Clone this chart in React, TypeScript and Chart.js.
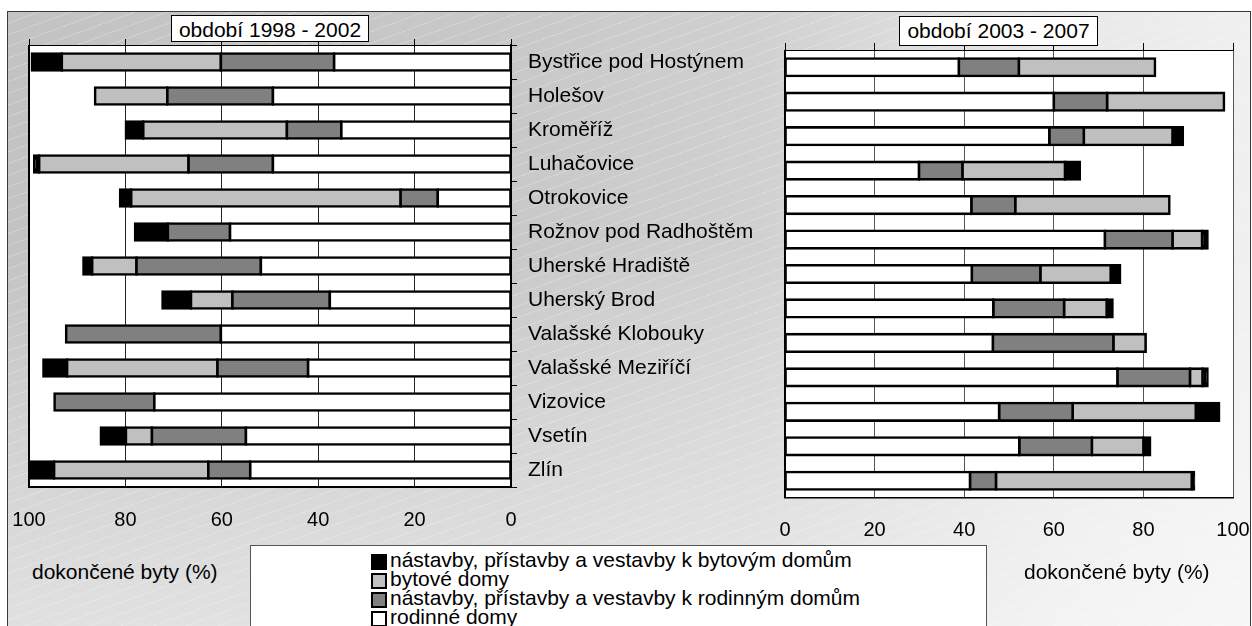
import React, { useEffect, useRef } from 'react';
import { Chart, registerables } from 'chart.js';

Chart.register(...registerables);

const FONT = '"Liberation Sans", Arial, Helvetica, sans-serif';

const categories = [
  'Bystřice pod Hostýnem',
  'Holešov',
  'Kroměříž',
  'Luhačovice',
  'Otrokovice',
  'Rožnov pod Radhoštěm',
  'Uherské Hradiště',
  'Uherský Brod',
  'Valašské Klobouky',
  'Valašské Meziříčí',
  'Vizovice',
  'Vsetín',
  'Zlín',
];

// období 1998 - 2002 (%)
const rodinne1 = [36.7, 49.4, 35.2, 49.4, 15.2, 58.3, 51.9, 37.6, 60.2, 42.1, 74.0, 55.0, 54.1];
const nastRod1 = [23.5, 21.9, 11.3, 17.5, 7.7, 12.9, 25.8, 20.2, 32.1, 18.8, 20.7, 19.5, 8.7];
const bytove1 = [33.0, 15.0, 29.8, 31.0, 55.9, 0, 9.2, 8.6, 0, 31.2, 0, 5.4, 32.0];
const nastByt1 = [6.2, 0, 3.6, 1.0, 2.3, 6.8, 1.8, 5.9, 0, 4.9, 0, 5.2, 5.2];

// období 2003 - 2007 (%)
const rodinne2 = [38.8, 60.0, 59.0, 29.9, 41.6, 71.4, 41.7, 46.5, 46.4, 74.2, 47.8, 52.3, 41.3];
const nastRod2 = [13.4, 11.9, 7.7, 9.7, 9.8, 15.1, 15.3, 15.8, 26.9, 16.2, 16.4, 16.2, 5.8];
const bytove2 = [30.4, 26.1, 19.8, 22.9, 34.4, 6.6, 15.7, 9.5, 7.2, 2.8, 27.5, 11.5, 43.7];
const nastByt2 = [0, 0, 2.3, 3.3, 0, 1.2, 2.1, 1.3, 0, 1.1, 5.2, 1.5, 0.5];

const seriesNames = [
  'nástavby, přístavby a vestavby k bytovým domům',
  'bytové domy',
  'nástavby, přístavby a vestavby k rodinným domům',
  'rodinné domy',
];
const seriesColors = ['#000000', '#c0c0c0', '#808080', '#ffffff'];

const periodTitles = ['období 1998 - 2002', 'období 2003 - 2007'];
const axisTitle = 'dokončené byty (%)';

const BORDER = 2.6;

function makeDatasets(rod: number[], nRod: number[], byt: number[], nByt: number[], barPct: number) {
  const values = [rod, nRod, byt, nByt];
  const idx = [3, 2, 1, 0];
  return values.map((v, i) => ({
    label: seriesNames[idx[i]],
    data: v.map((x) => (x > 0 ? x : null)),
    backgroundColor: seriesColors[idx[i]],
    borderColor: '#000000',
    borderWidth: BORDER,
    borderSkipped: false as any,
    inflateAmount: BORDER / 2,
    barPercentage: barPct,
    categoryPercentage: 1,
  }));
}

const plotFrame = {
  id: 'plotFrame',
  beforeDraw(chart: any) {
    const { ctx, chartArea: a } = chart;
    ctx.save();
    ctx.fillStyle = '#ffffff';
    ctx.fillRect(a.left, a.top, a.right - a.left, a.bottom - a.top);
    ctx.restore();
  },
  beforeDatasetsDraw(chart: any) {
    const { ctx, chartArea: a } = chart;
    ctx.save();
    ctx.strokeStyle = '#000000';
    ctx.lineWidth = 2;
    ctx.beginPath();
    ctx.moveTo(a.left, a.top);
    ctx.lineTo(a.left, a.bottom);
    ctx.stroke();
    ctx.restore();
  },
};

function zeroPad(s: any) {
  s.paddingLeft = 0;
  s.paddingRight = 0;
  s.paddingTop = 0;
  s.paddingBottom = 0;
}

export default function App() {
  const leftRef = useRef<HTMLCanvasElement>(null);
  const rightRef = useRef<HTMLCanvasElement>(null);

  useEffect(() => {
    Chart.defaults.font.family = FONT;
    Chart.defaults.color = '#000';

    const left = new Chart(leftRef.current as HTMLCanvasElement, {
      type: 'bar',
      data: {
        labels: categories,
        datasets: makeDatasets(rodinne1, nastRod1, bytove1, nastByt1, 0.5) as any,
      },
      plugins: [plotFrame],
      options: {
        animation: false,
        responsive: false,
        devicePixelRatio: 1,
        indexAxis: 'y',
        layout: { padding: { left: 29, top: 39, right: 0, bottom: 0 } },
        plugins: { legend: { display: false }, tooltip: { enabled: false }, title: { display: false } },
        scales: {
          x: {
            type: 'linear',
            position: 'bottom',
            stacked: true,
            reverse: true,
            min: 0,
            max: 100,
            ticks: { stepSize: 20, color: '#000', font: { size: 20, family: FONT }, padding: 21, maxRotation: 0 },
            grid: { color: '#222222', lineWidth: 1, drawTicks: false, drawOnChartArea: true },
            border: { display: true, color: '#000', width: 2 },
            afterFit: (s: any) => { s.height = 73; zeroPad(s); },
          },
          x2: {
            type: 'linear',
            position: 'top',
            reverse: true,
            min: 0,
            max: 100,
            ticks: { display: false, stepSize: 20 },
            grid: { drawOnChartArea: false, drawTicks: true, tickLength: 6, color: '#000' },
            border: { display: true, color: '#000', width: 1 },
            afterFit: (s: any) => { s.height = 6; zeroPad(s); },
          },
          y: {
            type: 'category',
            position: 'right',
            stacked: true,
            ticks: { color: '#000', font: { size: 21, family: FONT }, padding: 11, autoSkip: false },
            grid: { drawOnChartArea: false, drawTicks: true, tickLength: 6, color: '#000', offset: true },
            border: { display: true, color: '#000', width: 2 },
            afterFit: (s: any) => { s.width = 269; zeroPad(s); },
          },
        },
      } as any,
    });

    const right = new Chart(rightRef.current as HTMLCanvasElement, {
      type: 'bar',
      data: {
        labels: categories,
        datasets: makeDatasets(rodinne2, nastRod2, bytove2, nastByt2, 0.51) as any,
      },
      plugins: [plotFrame],
      options: {
        animation: false,
        responsive: false,
        devicePixelRatio: 1,
        indexAxis: 'y',
        layout: { padding: { left: 15, top: 43, right: 19, bottom: 0 } },
        plugins: { legend: { display: false }, tooltip: { enabled: false }, title: { display: false } },
        scales: {
          x: {
            type: 'linear',
            position: 'bottom',
            stacked: true,
            min: 0,
            max: 100,
            ticks: { stepSize: 20, color: '#000', font: { size: 20, family: FONT }, padding: 20, maxRotation: 0 },
            grid: { color: '#555555', lineWidth: 1, drawTicks: false, drawOnChartArea: true },
            border: { display: true, color: '#000', width: 1.5 },
            afterFit: (s: any) => { s.height = 62; zeroPad(s); },
          },
          x2: {
            type: 'linear',
            position: 'top',
            min: 0,
            max: 100,
            ticks: { display: false, stepSize: 20 },
            grid: { drawOnChartArea: false, drawTicks: true, tickLength: 7, color: '#000' },
            border: { display: true, color: '#000', width: 1 },
            afterFit: (s: any) => { s.height = 7; zeroPad(s); },
          },
          y: {
            type: 'category',
            stacked: true,
            display: false,
          },
        },
      } as any,
    });

    return () => {
      left.destroy();
      right.destroy();
    };
  }, []);

  const bg = [
    'repeating-linear-gradient(160deg, rgba(255,255,255,0) 0px, rgba(255,255,255,0) 10px, rgba(255,255,255,0.22) 10px, rgba(255,255,255,0.22) 11px)',
    'linear-gradient(to bottom, rgba(255,255,255,0) 0%, rgba(255,255,255,0) 35%, rgba(255,255,255,0.55) 100%)',
    'linear-gradient(to right, #c3c3c3 0%, #c8c8c8 40%, #d0d0d0 60%, #e8e8e8 85%, #f0f0f0 100%)',
  ].join(', ');

  const titleBox = (text: string, left: number, top: number, width: number, height: number, lh: number) => (
    <div
      style={{
        position: 'absolute',
        left,
        top,
        width,
        height,
        boxSizing: 'border-box',
        border: '1px solid #000',
        background: '#fff',
        fontSize: 21,
        lineHeight: `${lh}px`,
        textAlign: 'center',
        whiteSpace: 'nowrap',
        color: '#000',
      }}
    >
      {text}
    </div>
  );

  return (
    <div
      style={{
        position: 'fixed',
        left: 0,
        top: 0,
        width: 1252,
        height: 626,
        overflow: 'hidden',
        background: '#ffffff',
        fontFamily: FONT,
      }}
    >
      <div
        style={{
          position: 'absolute',
          left: 7,
          top: 11,
          width: 1244,
          height: 660,
          boxSizing: 'border-box',
          border: '1px solid #3a3a3a',
          background: bg,
        }}
      />
      <canvas
        ref={leftRef}
        width={780}
        height={560}
        style={{ position: 'absolute', left: 0, top: 0, width: 780, height: 560 }}
      />
      <canvas
        ref={rightRef}
        width={482}
        height={560}
        style={{ position: 'absolute', left: 770, top: 0, width: 482, height: 560 }}
      />
      {titleBox(periodTitles[0], 171, 15, 198, 27, 27)}
      {titleBox(periodTitles[1], 899, 16, 199, 30, 28)}
      <div style={{ position: 'absolute', left: 32, top: 560, fontSize: 21, lineHeight: '24px', whiteSpace: 'nowrap' }}>
        {axisTitle}
      </div>
      <div style={{ position: 'absolute', left: 1024, top: 560, fontSize: 21, lineHeight: '24px', whiteSpace: 'nowrap' }}>
        {axisTitle}
      </div>
      <div
        style={{
          position: 'absolute',
          left: 250,
          top: 545,
          width: 737,
          height: 100,
          boxSizing: 'border-box',
          border: '1px solid #555',
          background: '#fff',
        }}
      >
        {seriesNames.map((name, i) => (
          <div key={name} style={{ position: 'absolute', left: 0, top: 4 + i * 19, height: 19, width: 700 }}>
            <div
              style={{
                position: 'absolute',
                left: 120,
                top: 4,
                width: 16,
                height: 16,
                boxSizing: 'border-box',
                border: '2px solid #000',
                background: seriesColors[i],
              }}
            />
            <div
              style={{
                position: 'absolute',
                left: 139,
                top: 0,
                fontSize: 21,
                lineHeight: '19px',
                whiteSpace: 'nowrap',
                color: '#000',
              }}
            >
              {name}
            </div>
          </div>
        ))}
      </div>
    </div>
  );
}
